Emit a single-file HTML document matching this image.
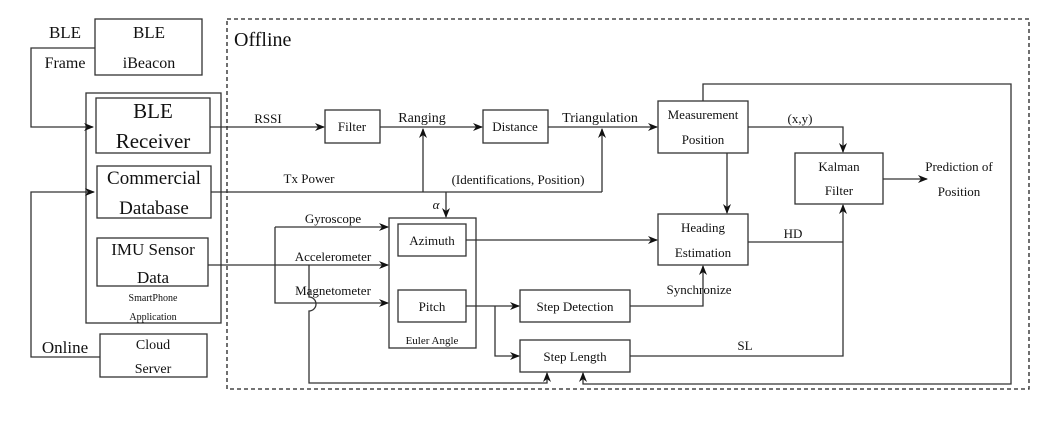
<!DOCTYPE html>
<html><head><meta charset="utf-8"><style>
html,body{margin:0;padding:0;background:#fff;}
svg{display:block;}
text{font-family:"Liberation Serif",serif;fill:#111;text-anchor:middle;}
</style></head><body>
<svg width="1053" height="425" viewBox="0 0 1053 425" xmlns="http://www.w3.org/2000/svg">
<defs><marker id="a" markerWidth="10" markerHeight="8" refX="9" refY="4" orient="auto" markerUnits="userSpaceOnUse"><path d="M0,0 L10,4 L0,8 L3,4 Z" fill="#111"/></marker></defs>
<g fill="none" stroke="#333" stroke-width="1.3">
<!-- left -->
<rect x="95" y="19" width="107" height="56"/>
<rect x="86" y="93" width="135" height="230"/>
<rect x="96" y="98" width="114" height="55"/>
<rect x="97" y="166" width="114" height="52"/>
<rect x="97" y="238" width="111" height="48"/>
<rect x="100" y="334" width="107" height="43"/>
<polyline points="95,48 31,48 31,127 93,127" marker-end="url(#a)"/>
<polyline points="100,357 31,357 31,192 94,192" marker-end="url(#a)"/>
<!-- offline dashed -->
<rect x="227" y="19" width="802" height="370" stroke-dasharray="4,3" stroke="#222"/>
<!-- boxes -->
<rect x="325" y="110" width="55" height="33"/>
<rect x="483" y="110" width="65" height="33"/>
<rect x="658" y="101" width="90" height="52"/>
<rect x="795" y="153" width="88" height="51"/>
<rect x="389" y="218" width="87" height="130"/>
<rect x="398" y="224" width="68" height="32"/>
<rect x="398" y="290" width="68" height="32"/>
<rect x="658" y="214" width="90" height="51"/>
<rect x="520" y="290" width="110" height="32"/>
<rect x="520" y="340" width="110" height="32"/>
<!-- connectors -->
<line x1="210" y1="127" x2="324" y2="127" marker-end="url(#a)"/>
<line x1="380" y1="127" x2="482" y2="127" marker-end="url(#a)"/>
<line x1="548" y1="127" x2="657" y2="127" marker-end="url(#a)"/>
<line x1="211" y1="192" x2="602" y2="192"/>
<line x1="423" y1="192" x2="423" y2="129" marker-end="url(#a)"/>
<line x1="602" y1="192" x2="602" y2="129" marker-end="url(#a)"/>
<line x1="446" y1="192" x2="446" y2="217" marker-end="url(#a)"/>
<polyline points="748,127 843,127 843,152" marker-end="url(#a)"/>
<line x1="883" y1="179" x2="927" y2="179" marker-end="url(#a)"/>
<line x1="727" y1="153" x2="727" y2="213" marker-end="url(#a)"/>
<line x1="466" y1="240" x2="657" y2="240" marker-end="url(#a)"/>
<polyline points="748,242 843,242"/>
<polyline points="630,356 843,356 843,205" marker-end="url(#a)"/>
<line x1="466" y1="306" x2="519" y2="306" marker-end="url(#a)"/>
<polyline points="495,306 495,356 519,356" marker-end="url(#a)"/>
<polyline points="630,306 703,306 703,266" marker-end="url(#a)"/>
<polyline points="703,101 703,84 1011,84 1011,384 583,384 583,373" marker-end="url(#a)"/>
<polyline points="275,227 388,227" marker-end="url(#a)"/>
<polyline points="208,265 388,265" marker-end="url(#a)"/>
<polyline points="275,227 275,303 388,303" marker-end="url(#a)"/>
<path d="M309,265 L309,297 A7,7 0 0 1 309,311 L309,383 L547,383 L547,373" marker-end="url(#a)"/>
</g>
<!-- text -->
<text x="65" y="38" font-size="17">BLE</text>
<text x="65" y="68" font-size="16">Frame</text>
<text x="149" y="38" font-size="17">BLE</text>
<text x="149" y="68" font-size="16">iBeacon</text>
<text x="153" y="118" font-size="21">BLE</text>
<text x="153" y="148" font-size="21">Receiver</text>
<text x="154" y="184" font-size="19">Commercial</text>
<text x="154" y="214" font-size="19">Database</text>
<text x="153" y="255" font-size="17">IMU Sensor</text>
<text x="153" y="283" font-size="17">Data</text>
<text x="153" y="301" font-size="10">SmartPhone</text>
<text x="153" y="320" font-size="10">Application</text>
<text x="65" y="353" font-size="17">Online</text>
<text x="153" y="349" font-size="14">Cloud</text>
<text x="153" y="373" font-size="14">Server</text>
<text x="234" y="46" font-size="20" style="text-anchor:start">Offline</text>
<text x="268" y="123" font-size="13">RSSI</text>
<text x="352" y="131" font-size="13">Filter</text>
<text x="422" y="122" font-size="14">Ranging</text>
<text x="515" y="131" font-size="13">Distance</text>
<text x="600" y="122" font-size="14">Triangulation</text>
<text x="703" y="119" font-size="13">Measurement</text>
<text x="703" y="144" font-size="13">Position</text>
<text x="309" y="183" font-size="13">Tx Power</text>
<text x="518" y="184" font-size="13">(Identifications, Position)</text>
<text x="436" y="209" font-size="13" font-style="italic">α</text>
<text x="800" y="123" font-size="13">(x,y)</text>
<text x="839" y="171" font-size="13">Kalman</text>
<text x="839" y="195" font-size="13">Filter</text>
<text x="959" y="171" font-size="13">Prediction of</text>
<text x="959" y="196" font-size="13">Position</text>
<text x="333" y="223" font-size="13">Gyroscope</text>
<text x="333" y="261" font-size="13">Accelerometer</text>
<text x="333" y="295" font-size="13">Magnetometer</text>
<text x="432" y="245" font-size="13">Azimuth</text>
<text x="432" y="311" font-size="13">Pitch</text>
<text x="432" y="344" font-size="11">Euler Angle</text>
<text x="703" y="232" font-size="13">Heading</text>
<text x="703" y="257" font-size="13">Estimation</text>
<text x="793" y="238" font-size="13">HD</text>
<text x="575" y="311" font-size="13">Step Detection</text>
<text x="575" y="361" font-size="13">Step Length</text>
<text x="699" y="294" font-size="13">Synchronize</text>
<text x="745" y="350" font-size="13">SL</text>
</svg>
</body></html>
